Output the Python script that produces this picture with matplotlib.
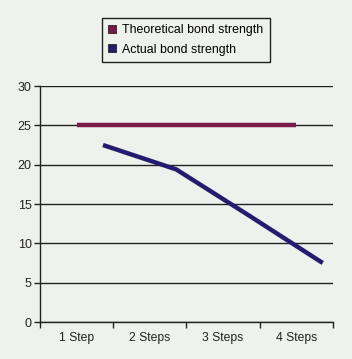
import numpy as np
import matplotlib.pyplot as plt

# ---------- data ----------
categories = ["1 Step", "2 Steps", "3 Steps", "4 Steps"]
theoretical = [25, 25, 25, 25]
actual = [22.5, 19.4, 13.5, 7.5]
actual_shift = 0.36  # actual series is drawn offset to the right in the original

BG = "#eef1ec"
C_THEO = "#7a1848"
C_ACT = "#241c6e"

plt.rcParams["font.family"] = ["Liberation Sans", "DejaVu Sans"]

fig = plt.figure(figsize=(3.52, 3.59), dpi=100, facecolor=BG)
ax = fig.add_axes([0.1136, 0.103, 0.8324, 0.6574], facecolor=BG)

x = np.arange(1, len(categories) + 1)
ax.plot(x, theoretical, color=C_THEO, lw=3.2, solid_capstyle="butt",
        label="Theoretical bond strength", zorder=3)
ax.plot(x + actual_shift, actual, color=C_ACT, lw=3.2, solid_capstyle="butt",
        label="Actual bond strength", zorder=3)

ax.set_xlim(0.5, len(categories) + 0.5)
ax.set_ylim(0, 30)
ax.set_yticks(range(0, 31, 5))
ax.yaxis.grid(True, color="#222222", lw=1.0)
ax.set_axisbelow(True)

ax.set_xticks(np.arange(0.5, len(categories) + 1, 1.0))
ax.set_xticklabels([])
ax.set_xticks(x, minor=True)
ax.set_xticklabels(categories, minor=True)
ax.tick_params(axis="x", which="minor", length=0, pad=7, labelsize=8.7, colors="#222222")
ax.tick_params(axis="x", which="major", length=4, width=1, color="#222222")
ax.tick_params(axis="y", length=4, width=1, labelsize=9, color="#222222",
               labelcolor="#222222", pad=2)

for s in ["top", "right"]:
    ax.spines[s].set_visible(False)
for s in ["left", "bottom"]:
    ax.spines[s].set_color("#222222")
    ax.spines[s].set_linewidth(1.0)

# legend with square markers
handles = [
    plt.Line2D([], [], marker="s", ls="none", markersize=6.2,
               markerfacecolor=C_THEO, markeredgecolor="#222222", markeredgewidth=0.6),
    plt.Line2D([], [], marker="s", ls="none", markersize=6.2,
               markerfacecolor=C_ACT, markeredgecolor="#222222", markeredgewidth=0.6),
]
leg = fig.legend(handles, ["Theoretical bond strength", "Actual bond strength"],
                 loc="center", bbox_to_anchor=(0.528, 0.8886), frameon=True,
                 fancybox=False, edgecolor="#222222", facecolor=BG, framealpha=1,
                 fontsize=8.9, handlelength=0.6, handletextpad=0.55,
                 borderpad=0.5, borderaxespad=0, labelspacing=0.6)
leg.get_frame().set_linewidth(1.0)

fig.savefig("out.png", dpi=100, facecolor=BG)
